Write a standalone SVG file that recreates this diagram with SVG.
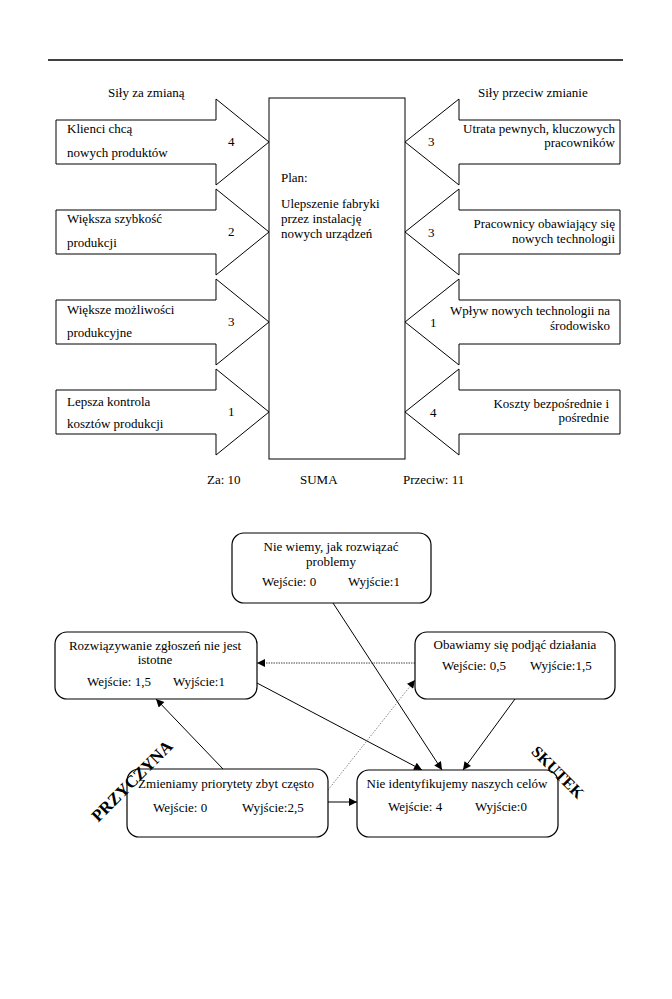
<svg xmlns="http://www.w3.org/2000/svg" width="672" height="999" viewBox="0 0 672 999">
<defs>
<style>
text{font-family:"Liberation Serif","Times New Roman",serif;font-size:13px;fill:#000}
.c{text-anchor:middle}
.r{text-anchor:end}
.shape{fill:#fff;stroke:#000;stroke-width:1}
.node{fill:#fff;stroke:#000;stroke-width:1.2}
.ln{fill:none;stroke:#000;stroke-width:1}
.dot{fill:none;stroke:#444;stroke-width:1;stroke-dasharray:1.5,1}
.dot2{fill:none;stroke:#666;stroke-width:0.8;stroke-dasharray:1.5,1.5}
.big{font-weight:bold;font-size:16px}
</style>
<marker id="ah" viewBox="0 0 10 10" refX="10" refY="5" markerWidth="9" markerHeight="8" markerUnits="userSpaceOnUse" orient="auto">
<path d="M0,0 L10,5 L0,10 Z" fill="#000"/>
</marker>
</defs>
<rect width="672" height="999" fill="#fff"/>
<line x1="48" y1="60" x2="623" y2="60" stroke="#000" stroke-width="1.5"/>
<text x="108" y="97">Siły za zmianą</text>
<text x="478" y="97">Siły przeciw zmianie</text>

<g id="plan">
<rect class="shape" x="269" y="98" width="136" height="361"/>
<text x="281" y="182">Plan:</text>
<text x="281" y="208">Ulepszenie fabryki</text>
<text x="281" y="223">przez instalację</text>
<text x="281" y="238">nowych urządzeń</text>
</g>

<g id="za1">
<path class="shape" d="M56,120 H216 V99 L269,142 L216,185 V164 H56 Z"/>
<text x="67" y="133">Klienci chcą</text>
<text x="67" y="157">nowych produktów</text>
<text x="228" y="146">4</text>
</g>
<g id="za2">
<path class="shape" d="M56,210 H216 V189 L269,232 L216,275 V254 H56 Z"/>
<text x="67" y="223">Większa szybkość</text>
<text x="67" y="247">produkcji</text>
<text x="228" y="236">2</text>
</g>
<g id="za3">
<path class="shape" d="M56,300 H216 V279 L269,322 L216,365 V344 H56 Z"/>
<text x="67" y="314">Większe możliwości</text>
<text x="67" y="337">produkcyjne</text>
<text x="228" y="326">3</text>
</g>
<g id="za4">
<path class="shape" d="M56,390 H216 V369 L269,412 L216,455 V434 H56 Z"/>
<text x="67" y="406">Lepsza kontrola</text>
<text x="67" y="428">kosztów produkcji</text>
<text x="228" y="416">1</text>
</g>

<g id="przeciw1">
<path class="shape" d="M620,120 H459 V99 L405,142 L459,185 V164 H620 Z"/>
<text class="r" x="615" y="133">Utrata pewnych, kluczowych</text>
<text class="r" x="615" y="147">pracowników</text>
<text x="428" y="146">3</text>
</g>
<g id="przeciw2">
<path class="shape" d="M620,210 H459 V189 L405,232 L459,275 V254 H620 Z"/>
<text class="r" x="615" y="228">Pracownicy obawiający się</text>
<text class="r" x="615" y="243">nowych technologii</text>
<text x="428" y="237">3</text>
</g>
<g id="przeciw3">
<path class="shape" d="M620,300 H459 V279 L405,322 L459,365 V344 H620 Z"/>
<text class="r" x="610" y="315">Wpływ nowych technologii na</text>
<text class="r" x="610" y="330">środowisko</text>
<text x="430" y="327">1</text>
</g>
<g id="przeciw4">
<path class="shape" d="M620,390 H459 V369 L405,412 L459,455 V434 H620 Z"/>
<text class="r" x="609" y="408">Koszty bezpośrednie i</text>
<text class="r" x="609" y="422">pośrednie</text>
<text x="430" y="417">4</text>
</g>

<text x="207" y="484">Za: 10</text>
<text x="300" y="484">SUMA</text>
<text x="403" y="484">Przeciw: 11</text>

<g id="connectors">
<line class="ln" x1="333" y1="603" x2="442" y2="770" marker-end="url(#ah)"/>
<line class="ln" x1="257" y1="683" x2="422" y2="770" marker-end="url(#ah)"/>
<line class="ln" x1="515" y1="699" x2="463" y2="770" marker-end="url(#ah)"/>
<line class="dot" x1="415" y1="663" x2="257" y2="663" marker-end="url(#ah)"/>
<line class="ln" x1="223" y1="769" x2="156" y2="699" marker-end="url(#ah)"/>
<line class="dot2" x1="328" y1="790" x2="415" y2="680" marker-end="url(#ah)"/>
<line class="ln" x1="328" y1="802" x2="357" y2="802" marker-end="url(#ah)"/>
</g>

<g id="nodeA">
<rect class="node" x="232" y="533" width="199" height="70" rx="12"/>
<text class="c" x="331" y="551">Nie wiemy, jak rozwiązać</text>
<text class="c" x="331" y="566">problemy</text>
<text x="262" y="586">Wejście: 0</text>
<text x="348" y="586">Wyjście:1</text>
</g>
<g id="nodeB">
<rect class="node" x="55" y="632" width="202" height="67" rx="12"/>
<text class="c" x="155" y="650">Rozwiązywanie zgłoszeń nie jest</text>
<text class="c" x="155" y="664">istotne</text>
<text x="87" y="686">Wejście: 1,5</text>
<text x="173" y="686">Wyjście:1</text>
</g>
<g id="nodeC">
<rect class="node" x="415" y="632" width="200" height="67" rx="12"/>
<text class="c" x="515" y="649">Obawiamy się podjąć działania</text>
<text x="442" y="670">Wejście: 0,5</text>
<text x="530" y="670">Wyjście:1,5</text>
</g>
<g id="nodeD">
<rect class="node" x="127" y="769" width="201" height="68" rx="12"/>
<text class="c" x="226" y="788">Zmieniamy priorytety zbyt często</text>
<text x="153" y="812">Wejście: 0</text>
<text x="242" y="812">Wyjście:2,5</text>
</g>
<g id="nodeE">
<rect class="node" x="357" y="770" width="201" height="67" rx="12"/>
<text class="c" x="457" y="788">Nie identyfikujemy naszych celów</text>
<text x="388" y="811">Wejście: 4</text>
<text x="475" y="811">Wyjście:0</text>
</g>

<text class="big c" style="font-size:17px" transform="translate(136,785) rotate(-45)">PRZYCZYNA</text>
<text class="big c" transform="translate(554,776) rotate(45)">SKUTEK</text>
</svg>
